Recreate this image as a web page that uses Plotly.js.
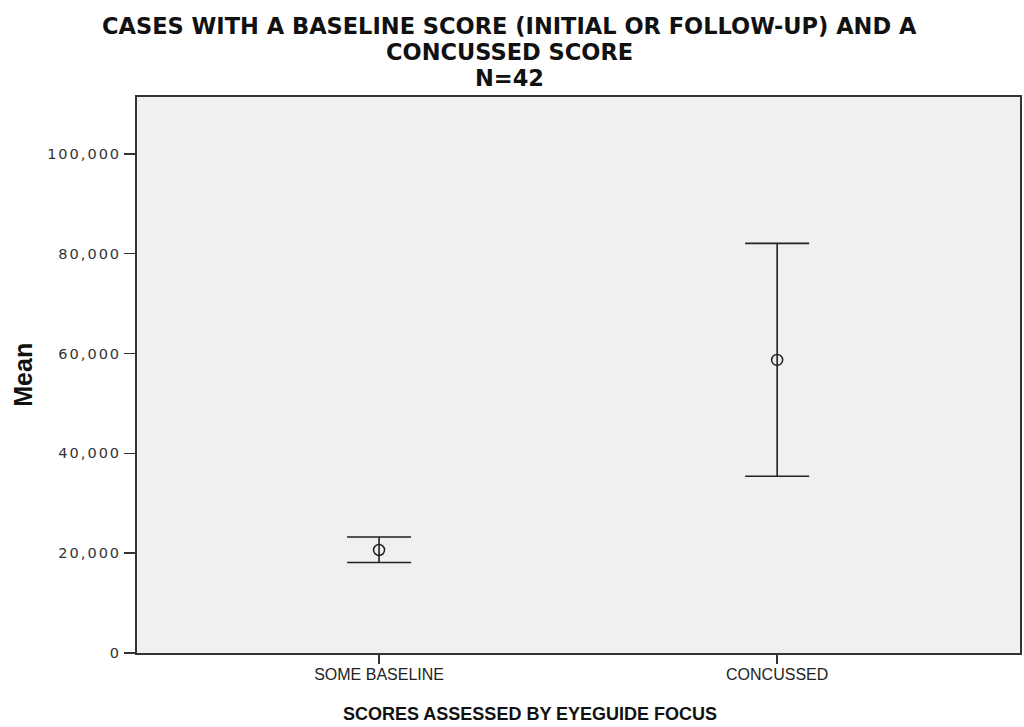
<!DOCTYPE html>
<html>
<head>
<meta charset="utf-8">
<script src="https://cdn.plot.ly/plotly-3.0.1.min.js"></script>
<style>
html,body{margin:0;padding:0;background:#fff;}
#chart{width:1024px;height:727px;}
#chart .ytick text{letter-spacing:2px;}
</style>
</head>
<body>
<div id="chart"></div>
<script>
const categories = ["SOME BASELINE", "CONCUSSED"];
const means = [20640, 58720];
const errPlus = [2600, 23350];
const errMinus = [2500, 23300];
const yTickVals = [0, 20000, 40000, 60000, 80000, 100000];
const yTickText = ["0", "20,000", "40,000", "60,000", "80,000", "100,000"];
const titleLines = ["CASES WITH A BASELINE SCORE (INITIAL OR FOLLOW-UP) AND A", "CONCUSSED SCORE", "N=42"];
const xTitle = "SCORES ASSESSED BY EYEGUIDE FOCUS";
const yTitle = "Mean";

const sans = "'Liberation Sans', Arial, sans-serif";
const verd = "'DejaVu Sans', Verdana, sans-serif";

const trace = {
  type: "scatter",
  mode: "markers",
  x: categories,
  y: means,
  marker: {symbol: "circle-open", size: 11, color: "#222", line: {width: 1.5, color: "#222"}},
  error_y: {type: "data", symmetric: false, array: errPlus, arrayminus: errMinus,
            color: "#222", thickness: 1.6, width: 32},
  hoverinfo: "skip",
  showlegend: false
};

const titleY = [1.1277, 1.0809, 1.0342];
const annotations = titleLines.map((t, i) => ({
  text: "<b>" + t + "</b>",
  xref: "paper", yref: "paper",
  x: 0.4224, y: titleY[i], xanchor: "center", yanchor: "middle",
  showarrow: false,
  font: {family: verd, size: 22.5, color: "#111"}
}));
annotations.push({
  text: "<b>" + xTitle + "</b>",
  xref: "paper", yref: "paper",
  x: 0.445, y: -0.1097, xanchor: "center", yanchor: "middle",
  showarrow: false,
  font: {family: sans, size: 18, color: "#111"}
});
annotations.push({
  text: "<b>" + yTitle + "</b>",
  xref: "paper", yref: "paper",
  x: -0.1288, y: 0.501, xanchor: "center", yanchor: "middle",
  textangle: -90,
  showarrow: false,
  font: {family: sans, size: 25, color: "#111"}
});

const layout = {
  width: 1024, height: 727,
  margin: {l: 137, r: 4, t: 97, b: 74},
  paper_bgcolor: "#ffffff",
  plot_bgcolor: "#f0f0f0",
  xaxis: {
    type: "category",
    range: [-0.608, 1.61],
    showgrid: false, zeroline: false,
    showline: true, linecolor: "#333", linewidth: 2, mirror: true,
    ticks: "outside", ticklen: 9, tickwidth: 1.5, tickcolor: "#333",
    ticklabelstandoff: -3,
    tickfont: {family: sans, size: 16, color: "#222"}
  },
  yaxis: {
    range: [0, 111400],
    tickvals: yTickVals, ticktext: yTickText,
    showgrid: false, zeroline: false,
    showline: true, linecolor: "#333", linewidth: 2, mirror: true,
    ticks: "outside", ticklen: 11, tickwidth: 1.5, tickcolor: "#333",
    tickfont: {family: verd, size: 14.5, color: "#333"}
  },
  annotations: annotations
};

Plotly.newPlot("chart", [trace], layout, {displayModeBar: false, staticPlot: true});
</script>
</body>
</html>
